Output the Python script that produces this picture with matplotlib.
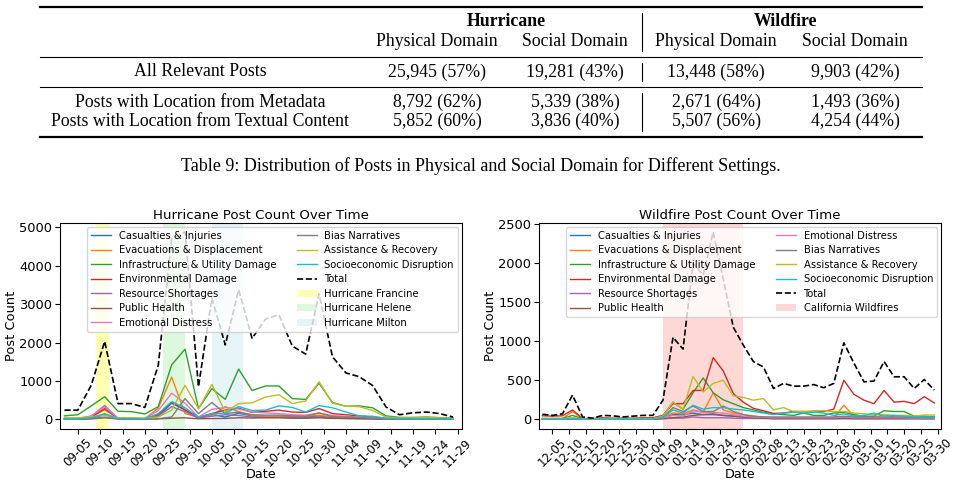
"""Table of post counts plus hurricane / wildfire post-count time series."""

import matplotlib
matplotlib.use("Agg")
import matplotlib.pyplot as plt
import matplotlib.dates as mdates
from matplotlib.lines import Line2D
import pandas as pd

W, H = 957, 486

# ---------------- table data ----------------
events = ["Hurricane", "Wildfire"]
domains = ["Physical Domain", "Social Domain"]
row_labels = [
    "All Relevant Posts",
    "Posts with Location from Metadata",
    "Posts with Location from Textual Content",
]
row_values = [
    ["25,945 (57%)", "19,281 (43%)", "13,448 (58%)", "9,903 (42%)"],
    ["8,792 (62%)", "5,339 (38%)", "2,671 (64%)", "1,493 (36%)"],
    ["5,852 (60%)", "3,836 (40%)", "5,507 (56%)", "4,254 (44%)"],
]
caption = "Table 9: Distribution of Posts in Physical and Social Domain for Different Settings."

# ---------------- series data ----------------
categories = [
    "Casualties & Injuries", "Evacuations & Displacement", "Infrastructure & Utility Damage",
    "Environmental Damage", "Resource Shortages", "Public Health", "Emotional Distress",
    "Bias Narratives", "Assistance & Recovery", "Socioeconomic Disruption",
]

h_dates = pd.date_range("2024-09-02", periods=30, freq="3D")
h_casualty = [10, 10, 30, 120, 20, 20, 10, 80, 420, 250, 40, 130, 60, 160, 90, 80, 80, 70, 60, 90, 50, 40, 30, 20, 10, 10, 10, 10, 5, 5]
h_evac = [20, 20, 60, 250, 30, 30, 20, 290, 1100, 150, 50, 100, 330, 200, 100, 70, 80, 90, 80, 110, 60, 50, 40, 30, 20, 15, 15, 15, 10, 10]
h_infra = [90, 120, 350, 590, 210, 200, 140, 330, 1420, 1830, 280, 800, 520, 1310, 750, 870, 870, 540, 520, 940, 440, 340, 350, 300, 90, 50, 50, 60, 45, 35]
h_env = [15, 15, 60, 280, 20, 20, 15, 120, 450, 240, 50, 150, 240, 290, 180, 210, 240, 190, 180, 280, 150, 120, 90, 60, 20, 15, 15, 15, 10, 10]
h_resource = [10, 10, 80, 360, 20, 20, 10, 80, 330, 200, 30, 80, 120, 100, 60, 50, 50, 40, 40, 60, 30, 25, 20, 15, 10, 5, 5, 5, 5, 5]
h_health = [5, 5, 10, 40, 10, 10, 5, 10, 30, 40, 15, 20, 25, 40, 35, 40, 40, 30, 30, 40, 25, 20, 15, 10, 5, 5, 5, 5, 5, 5]
h_emotion = [20, 20, 90, 330, 30, 30, 20, 230, 680, 420, 60, 260, 310, 270, 190, 170, 150, 120, 110, 160, 100, 80, 60, 40, 20, 15, 15, 15, 10, 10]
h_bias = [5, 5, 20, 60, 10, 10, 5, 20, 60, 540, 150, 440, 150, 190, 120, 110, 110, 90, 80, 170, 70, 60, 50, 30, 15, 10, 10, 10, 10, 5]
h_assist = [40, 40, 70, 110, 40, 40, 30, 60, 240, 890, 270, 910, 190, 410, 430, 580, 640, 410, 480, 980, 420, 340, 330, 230, 60, 40, 40, 50, 40, 30]
h_socio = [10, 10, 40, 150, 20, 20, 10, 150, 460, 300, 60, 150, 160, 330, 230, 240, 350, 310, 190, 360, 300, 190, 90, 80, 30, 20, 20, 20, 15, 10]
h_total = [240, 240, 890, 2030, 410, 410, 310, 1410, 4700, 4880, 850, 3160, 1940, 3380, 2110, 2610, 2730, 1910, 1700, 3270, 1630, 1210, 1110, 880, 320, 120, 170, 190, 150, 60]

w_dates = pd.date_range("2024-12-02", periods=40, freq="3D")
w_casualty = [5, 5, 5, 10, 5, 5, 5, 5, 5, 5, 5, 5, 20, 60, 60, 80, 60, 60, 50, 40, 30, 20, 20, 20, 20, 20, 20, 20, 20, 20, 20, 20, 15, 15, 15, 15, 15, 15, 10, 10]
w_evac = [10, 10, 10, 100, 5, 5, 5, 5, 5, 5, 5, 5, 30, 80, 70, 120, 90, 340, 120, 80, 60, 40, 30, 20, 20, 20, 20, 20, 20, 20, 180, 40, 30, 20, 60, 30, 30, 20, 20, 20]
w_infra = [10, 10, 10, 50, 5, 5, 5, 5, 5, 5, 5, 10, 40, 220, 130, 340, 530, 340, 250, 200, 150, 120, 90, 70, 60, 50, 80, 50, 50, 80, 90, 60, 40, 40, 110, 100, 100, 40, 40, 30]
w_env = [45, 40, 45, 120, 10, 10, 20, 15, 15, 15, 20, 20, 50, 200, 200, 370, 370, 790, 620, 330, 220, 140, 110, 75, 80, 100, 100, 90, 100, 130, 500, 320, 245, 200, 370, 220, 230, 200, 290, 210]
w_resource = [2, 2, 2, 5, 2, 2, 2, 2, 2, 2, 2, 2, 5, 15, 15, 30, 20, 20, 20, 15, 10, 10, 10, 5, 5, 5, 5, 5, 5, 5, 10, 5, 5, 5, 5, 5, 5, 5, 5, 5]
w_health = [2, 2, 2, 5, 2, 2, 2, 2, 2, 2, 2, 2, 10, 20, 30, 50, 60, 70, 50, 40, 30, 20, 15, 10, 10, 10, 10, 10, 10, 10, 10, 10, 10, 10, 10, 10, 10, 10, 10, 10]
w_emotion = [5, 5, 5, 10, 5, 5, 5, 5, 5, 5, 5, 5, 20, 50, 40, 110, 90, 90, 80, 60, 40, 30, 25, 20, 20, 20, 20, 20, 20, 20, 30, 20, 20, 20, 20, 20, 20, 15, 15, 15]
w_bias = [5, 5, 5, 10, 5, 5, 5, 5, 5, 5, 5, 5, 20, 150, 100, 170, 100, 100, 170, 100, 60, 40, 30, 30, 30, 30, 30, 30, 30, 30, 40, 30, 30, 30, 30, 30, 30, 20, 20, 20]
w_assist = [10, 10, 10, 20, 5, 5, 10, 10, 10, 10, 10, 10, 40, 220, 130, 550, 350, 460, 500, 300, 280, 245, 265, 120, 150, 100, 100, 110, 110, 100, 100, 80, 70, 60, 60, 50, 50, 40, 55, 55]
w_socio = [5, 5, 5, 10, 5, 5, 5, 5, 5, 5, 5, 5, 30, 120, 80, 180, 130, 150, 150, 130, 120, 100, 80, 60, 80, 90, 80, 90, 80, 50, 70, 40, 50, 80, 40, 50, 40, 30, 30, 30]
w_total = [65, 50, 70, 310, 30, 15, 50, 45, 30, 40, 50, 50, 245, 1050, 900, 2000, 1850, 2400, 1800, 1180, 950, 740, 670, 395, 460, 425, 425, 445, 405, 460, 980, 720, 480, 490, 740, 545, 545, 395, 510, 375]

# event windows: (label, start, end, colour)
h_events = [
    ("Hurricane Francine", "2024-09-09", "2024-09-12", "yellow"),
    ("Hurricane Helene", "2024-09-24", "2024-09-29", "lightgreen"),
    ("Hurricane Milton", "2024-10-05", "2024-10-12", "lightblue"),
]
w_events = [("California Wildfires", "2025-01-07", "2025-01-31", "salmon")]

h_series = [h_casualty, h_evac, h_infra, h_env, h_resource, h_health, h_emotion, h_bias, h_assist, h_socio]
w_series = [w_casualty, w_evac, w_infra, w_env, w_resource, w_health, w_emotion, w_bias, w_assist, w_socio]

fig = plt.figure(figsize=(W / 100, H / 100), dpi=100)
serif = "Liberation Serif"


def fx(px):
    return px / W


def fy(py):
    return 1 - py / H


# ---------------- table ----------------
def hrule(y, lw):
    fig.add_artist(Line2D([fx(40), fx(922)], [fy(y), fy(y)], color="black", lw=lw))


hrule(7, 1.6)
hrule(57, 0.8)
hrule(87, 0.8)
hrule(137, 1.6)
for y0, y1 in [(13, 51), (63, 81), (93, 131)]:
    fig.add_artist(Line2D([fx(642), fx(642)], [fy(y0), fy(y1)], color="black", lw=0.8))

col_x = [437, 575, 716, 855]
fs = 12.8
for i, ev in enumerate(events):
    fig.text(fx((col_x[2 * i] + col_x[2 * i + 1]) / 2), fy(22), ev, family=serif,
             fontsize=fs, fontweight="bold", ha="center", va="center")
    for j, dom in enumerate(domains):
        fig.text(fx(col_x[2 * i + j]), fy(42), dom, family=serif, fontsize=fs,
                 ha="center", va="center")

row_y = [72, 102, 121]
for label, vals, y in zip(row_labels, row_values, row_y):
    fig.text(fx(200), fy(y), label, family=serif, fontsize=fs, ha="center", va="center")
    for x, v in zip(col_x, vals):
        fig.text(fx(x), fy(y), v, family=serif, fontsize=fs, ha="center", va="center")

fig.text(fx(481), fy(166), caption, family=serif, fontsize=fs * 1.01, ha="center", va="center")

# ---------------- charts ----------------
colors = plt.get_cmap("tab10").colors


def draw(ax, dates, series, total, windows, title, xlim, tick_start, tick_end):
    for name, vals, c in zip(categories, series, colors):
        ax.plot(dates, vals, color=c, lw=1.0, label=name)
    ax.plot(dates, total, color="black", ls="--", lw=1.2, label="Total")
    for name, s, e, c in windows:
        ax.axvspan(pd.Timestamp(s), pd.Timestamp(e), color=c, alpha=0.3, lw=0, label=name)
    ax.set_title(title, fontsize=9.6, pad=3)
    ax.set_xlabel("Date", fontsize=9.2, labelpad=-1)
    ax.set_ylabel("Post Count", fontsize=9.4, labelpad=1)
    ax.set_xlim(pd.Timestamp(xlim[0]), pd.Timestamp(xlim[1]))
    ax.set_xticks(pd.date_range(tick_start, tick_end, freq="5D"))
    ax.xaxis.set_major_formatter(mdates.DateFormatter("%m-%d"))
    ax.tick_params(axis="x", rotation=45, labelsize=8.5, pad=2)
    ax.tick_params(axis="y", labelsize=9.4, pad=2)
    ax.legend(loc="upper right", ncol=2, fontsize=7.2, borderaxespad=0.4,
              labelspacing=0.45, columnspacing=2.0, handlelength=2.0, borderpad=0.4)


ax1 = fig.add_axes([fx(60), fy(428.5), fx(402), (428.5 - 222.7) / H])
draw(ax1, h_dates, h_series, h_total, h_events, "Hurricane Post Count Over Time",
     ("2024-09-01", "2024-11-30"), "2024-09-05", "2024-11-29")
ax1.set_yticks([0, 1000, 2000, 3000, 4000, 5000])

ax2 = fig.add_axes([fx(539), fy(428.5), fx(402), (428.5 - 222.7) / H])
draw(ax2, w_dates, w_series, w_total, w_events, "Wildfire Post Count Over Time",
     ("2024-12-01", "2025-03-31"), "2024-12-05", "2025-03-30")
ax2.set_yticks([0, 500, 1000, 1500, 2000, 2500])

fig.savefig("out.png", dpi=100)
